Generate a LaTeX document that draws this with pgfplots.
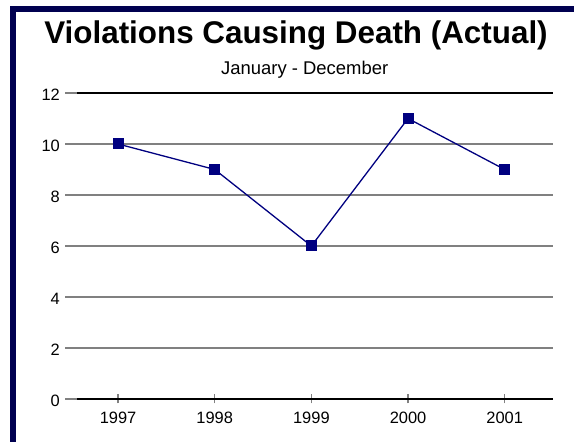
\documentclass[border=0pt]{standalone}
\usepackage{pgfplots}
\pgfplotsset{compat=1.18}
\usepackage{fontspec}
\setmainfont{Liberation Sans}
\definecolor{frame}{RGB}{0,0,80}
\definecolor{navy}{RGB}{0,0,128}
\definecolor{gridgray}{RGB}{128,128,128}
\newcommand{\tickfont}{\fontsize{16.5}{19}\selectfont}
\begin{document}
\begin{tikzpicture}[x=1bp,y=1bp]
\useasboundingbox (0,0) rectangle (574,442);
\fill[white] (0,0) rectangle (574,442);
\fill[frame] (10,430) rectangle (574,435.5);
\fill[frame] (10,0) rectangle (15.5,435.5);
\node[font=\fontsize{31.5}{36}\selectfont\bfseries, anchor=base, inner sep=0pt] at (296,398.7) {Violations Causing Death (Actual)};
\node[font=\fontsize{18.5}{22}\selectfont, anchor=base, inner sep=0pt] at (304.7,367) {January - December};
\begin{axis}[
  at={(77bp,43bp)}, anchor=south west,
  scale only axis, width=476bp, height=306bp,
  xmin=1996.575, xmax=2001.5,
  ymin=0, ymax=12,
  xtick={1997,1998,1999,2000,2001},
  ytick={0,2,4,6,8,10,12},
  /pgf/number format/assume math mode=true,
  xtick pos=bottom, ytick pos=left,
  ytick align=outside, xtick align=center,
  major tick length=12bp,
  x tick style={gridgray, line width=1.2bp, /pgfplots/major tick length=9bp},
  y tick style={gridgray, line width=1.3bp},
  ymajorgrids, grid style={gridgray, line width=1.3bp},
  separate axis lines,
  x axis line style={black, line width=2bp},
  y axis line style={draw=none},
  axis x line=box,
  yticklabel style={font=\tickfont, anchor=east, inner sep=0pt, xshift=-5bp, yshift=-1.5bp},
  xticklabel style={font=\tickfont, anchor=base, inner sep=0pt, yshift=-18.5bp, /pgf/number format/1000 sep={}},
  yticklabel={\tickfont\pgfmathprintnumber{\tick}},
  xticklabel={\tickfont\pgfmathprintnumber[1000 sep={}]{\tick}},
  clip=false,
]
\addplot[navy, line width=1.3bp, mark=square*, mark size=5bp, mark options={fill=navy, draw=navy, line width=0pt}]
  coordinates {(1997,10) (1998,9) (1999,6) (2000,11) (2001,9)};
\end{axis}
\end{tikzpicture}
\end{document}
